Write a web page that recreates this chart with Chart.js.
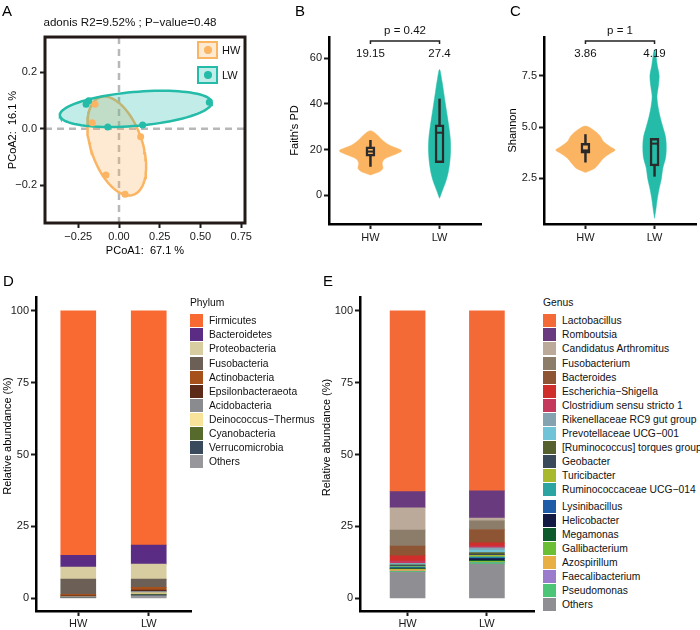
<!DOCTYPE html>
<html>
<head>
<meta charset="utf-8">
<title>Gut microbiota HW vs LW</title>
<script src="https://cdn.jsdelivr.net/npm/chart.js@4.4.1/dist/chart.umd.min.js"></script>
<style>
  body { margin: 0; background: #fff; font-family: "Liberation Sans", Arial, sans-serif; }
  #page { position: relative; width: 700px; height: 630px; overflow: hidden; }
  canvas { position: absolute; }
  .letter { position: absolute; font-size: 15px; line-height: 15px; color: #000; }
  .leg { position: absolute; font-size: 10.3px; color: #111; }
  .leg .lt { position: absolute; left: 0; top: 0; line-height: 14px; white-space: nowrap; }
  .leg .li { position: absolute; left: 0; height: 13px; line-height: 13px; padding-left: 19px; white-space: nowrap; }
  .leg .li i { position: absolute; left: 0; top: 0; width: 13px; height: 13px; }
  .gbox { position: absolute; width: 17px; height: 14px; border: 2px solid; }
  .gbox i { position: absolute; left: 4.5px; top: 3px; width: 8px; height: 8px; border-radius: 50%; }
  .glab { position: absolute; font-size: 11px; line-height: 14px; color: #111; }
</style>
</head>
<body>
<div id="page">
  <canvas id="pcoa" width="260" height="262" style="left:0;top:0"></canvas>
  <canvas id="faith" width="235" height="255" style="left:250px;top:0"></canvas>
  <canvas id="shannon" width="230" height="255" style="left:470px;top:0"></canvas>
  <canvas id="phylum" width="195" height="370" style="left:0;top:260px"></canvas>
  <canvas id="genus" width="220" height="370" style="left:320px;top:260px"></canvas>
  <div class="letter" style="left:2px;top:3px">A</div>
  <div class="letter" style="left:295px;top:3px">B</div>
  <div class="letter" style="left:510px;top:3px">C</div>
  <div class="letter" style="left:3px;top:273px">D</div>
  <div class="letter" style="left:323px;top:273px">E</div>
</div>
<script>
// ---- data ----
const groups = ['HW', 'LW'];
const groupColors = ['#FBB462', '#24BCA8'];
const groupFills = ['rgba(251,180,98,0.28)', 'rgba(36,188,168,0.28)'];
const groupTicks = [1, 2];

// A: PCoA scores
const pcoaHWx = [-0.147, -0.164, 0.133, -0.080, 0.037];
const pcoaHWy = [0.086, 0.021, -0.028, -0.163, -0.231];
const pcoaLWx = [-0.202, -0.186, -0.069, 0.145, 0.554];
const pcoaLWy = [0.086, 0.099, 0.006, 0.013, 0.093];
// confidence ellipses: centre and the two semi-axis vectors
const ellipseCenter = [[-0.014, -0.061], [0.103, 0.070]];
const ellipseAxisA = [[0.102, -0.172], [0.466, 0.022]];
const ellipseAxisB = [[0.149, 0.029], [0.0, 0.060]];
const pcoaXTicks = [-0.25, 0, 0.25, 0.5, 0.75];
const pcoaXLabels = ['−0.25', '0.00', '0.25', '0.50', '0.75'];
const pcoaYTicks = [-0.2, 0, 0.2];
const pcoaYLabels = ['−0.2', '0.0', '0.2'];

// B: Faith's PD (violin profile: value, half width)
const faithHWy = [8.9, 10.4, 11.8, 14.0, 15.8, 17.7, 19.5, 22.0, 24.2, 26.4, 28.3];
const faithHWw = [0, 0.135, 0.18, 0.17, 0.20, 0.34, 0.45, 0.27, 0.17, 0.10, 0];
const faithLWy = [-1.3, 2, 6, 10, 15, 20, 25, 30, 35, 40, 45, 50, 55.1];
const faithLWw = [0, 0.04, 0.09, 0.125, 0.15, 0.16, 0.155, 0.135, 0.11, 0.085, 0.06, 0.035, 0];
const faithBox = [[12.5, 17.1, 19.15, 21.2, 24.2], [14.3, 14.3, 27.4, 30.8, 42.3]]; // min q1 med q3 max
const faithMeans = ['19.15', '27.4'];
const faithP = 'p = 0.42';
const faithTicks = [0, 20, 40, 60];

// C: Shannon
const shannonHWy = [2.78, 2.99, 3.23, 3.48, 3.72, 3.88, 4.04, 4.29, 4.53, 4.78, 5.05];
const shannonHWw = [0, 0.135, 0.20, 0.26, 0.36, 0.43, 0.36, 0.26, 0.22, 0.145, 0];
const shannonLWy = [0.55, 1.0, 1.5, 2.0, 2.5, 3.0, 3.5, 4.0, 4.5, 5.0, 5.5, 6.0, 6.5, 7.0, 7.5, 8.0, 8.5, 8.77];
const shannonLWw = [0, 0.02, 0.04, 0.067, 0.10, 0.12, 0.16, 0.17, 0.16, 0.12, 0.08, 0.05, 0.035, 0.055, 0.067, 0.04, 0.02, 0];
const shannonBox = [[3.27, 3.72, 3.86, 4.21, 4.65], [2.58, 3.1, 4.19, 4.45, 4.45]];
const shannonMeans = ['3.86', '4.19'];
const shannonP = 'p = 1';
const shannonTicks = [2.5, 5, 7.5];
const shannonLabels = ['2.5', '5.0', '7.5'];

// D: phylum composition (%)
const phyla = ['Firmicutes', 'Bacteroidetes', 'Proteobacteria', 'Fusobacteria', 'Actinobacteria',
  'Epsilonbacteraeota', 'Acidobacteria', 'Deinococcus−Thermus', 'Cyanobacteria', 'Verrucomicrobia', 'Others'];
const phylumHW = [85.0, 4.1, 4.2, 5.3, 0.5, 0.3, 0.2, 0.05, 0.05, 0.1, 0.2];
const phylumLW = [81.5, 6.6, 5.2, 2.9, 0.9, 0.5, 0.5, 0.4, 0.25, 0.4, 0.85];
const phylumColors = ['#F96A33', '#5B2C83', '#D8CDA1', '#6B5F56', '#A6511C', '#5C2A18',
  '#898B8E', '#F8E39B', '#556A2B', '#384A5B', '#97979B'];

// E: genus composition (%)
const genera = ['Lactobacillus', 'Romboutsia', 'Candidatus Arthromitus', 'Fusobacterium', 'Bacteroides',
  'Escherichia−Shigella', 'Clostridium sensu stricto 1', 'Rikenellaceae RC9 gut group', 'Prevotellaceae UCG−001',
  '[Ruminococcus] torques group', 'Geobacter', 'Turicibacter', 'Ruminococcaceae UCG−014', 'Lysinibacillus',
  'Helicobacter', 'Megamonas', 'Gallibacterium', 'Azospirillum', 'Faecalibacterium', 'Pseudomonas', 'Others'];
const genusHW = [62.9, 5.6, 7.75, 5.55, 3.4, 1.8, 0.8, 0.3, 0.2, 0.3, 0.3, 0.15, 0.3, 0.1, 0.3, 0.1, 0.15, 0.5, 0.1, 0.25, 9.15];
const genusLW = [62.6, 9.4, 1.0, 3.0, 4.65, 1.15, 0.6, 0.8, 0.8, 0.6, 0.35, 0.6, 0.3, 0.3, 0.6, 0.3, 0.3, 0.1, 0.1, 0.5, 11.9];
const genusColors = ['#F46A36', '#6A3A7E', '#BBA99A', '#8C7D6A', '#8D5533', '#CF2E2A', '#C53A5C', '#85A2B0',
  '#71C4D8', '#56602E', '#3B4A5B', '#A8B92E', '#2CA5A2', '#1E5CA8', '#121A44', '#0E5A2D', '#6ABF34',
  '#E7AF44', '#9B7BCC', '#4CC576', '#8F8F93'];
const abundTicks = [0, 25, 50, 75, 100];

// ---- chart setup ----
Chart.defaults.font.family = '"Liberation Sans", Arial, sans-serif';
Chart.defaults.font.size = 11;
Chart.defaults.color = '#1a1a1a';
Chart.defaults.animation = false;
Chart.defaults.responsive = false;
Chart.defaults.plugins.legend.display = false;
Chart.defaults.plugins.tooltip.enabled = false;

function scale(min, max, values, labels, fitSize, isX, opts = {}) {
  return {
    type: 'linear', min, max, offset: false,
    stacked: !!opts.stacked,
    afterBuildTicks: s => { s.ticks = values.map(v => ({value: v})); },
    afterFit: s => { if (isX) s.height = fitSize; else s.width = fitSize; },
    ticks: {autoSkip: false, maxRotation: 0, padding: opts.tickPad ?? 2, color: '#1a1a1a',
      callback: (v, i) => labels[i]},
    grid: {display: true, offset: false, drawOnChartArea: false, drawTicks: true,
      tickLength: 5, tickWidth: 2, tickColor: '#1a1a1a'},
    border: {display: opts.border !== false, color: '#000', width: 2.5},
    title: opts.title ? {display: true, text: opts.title, color: '#000', font: {size: 11},
      padding: isX ? {top: 0, bottom: opts.titlePad} : {top: opts.titlePad, bottom: 0}} : {display: false}
  };
}

const framePlugin = {
  id: 'frame',
  afterDatasetsDraw(chart) {
    const {ctx, chartArea: a} = chart;
    ctx.save();
    ctx.strokeStyle = '#231a17';
    ctx.lineWidth = 3;
    ctx.strokeRect(a.left, a.top, a.right - a.left, a.bottom - a.top);
    ctx.restore();
  }
};

const zeroLinePlugin = {
  id: 'zeroLines',
  beforeDatasetsDraw(chart) {
    const {ctx, chartArea: a, scales: {x, y}} = chart;
    const px = x.getPixelForValue(0), py = y.getPixelForValue(0);
    ctx.save();
    ctx.strokeStyle = '#b8b8b8';
    ctx.lineWidth = 2.5;
    ctx.setLineDash([7, 5]);
    ctx.beginPath();
    ctx.moveTo(px, a.top); ctx.lineTo(px, a.bottom);
    ctx.moveTo(a.left, py); ctx.lineTo(a.right, py);
    ctx.stroke();
    ctx.restore();
  }
};

const bracketPlugin = {
  id: 'bracket',
  afterDraw(chart, args, o) {
    if (!o.p) return;
    const {ctx, chartArea: a, scales: {x}} = chart;
    const x1 = x.getPixelForValue(1), x2 = x.getPixelForValue(2);
    const yb = a.top + 4;
    ctx.save();
    ctx.strokeStyle = '#222';
    ctx.lineWidth = 1.5;
    ctx.beginPath();
    ctx.moveTo(x1, yb + 3); ctx.lineTo(x1, yb); ctx.lineTo(x2, yb); ctx.lineTo(x2, yb + 3);
    ctx.stroke();
    ctx.fillStyle = '#111';
    ctx.font = '11.5px "Liberation Sans", Arial, sans-serif';
    ctx.textAlign = 'center';
    ctx.textBaseline = 'middle';
    ctx.fillText(o.p, (x1 + x2) / 2, a.top - 6);
    o.means.forEach((m, i) => ctx.fillText(m, x.getPixelForValue(i + 1), a.top + 17));
    ctx.restore();
  }
};

const yTitlePlugin = {
  id: 'yTitle',
  afterDraw(chart, args, o) {
    if (!o.text) return;
    const {ctx} = chart;
    ctx.save();
    ctx.translate(o.x, o.y);
    ctx.rotate(-Math.PI / 2);
    ctx.font = '11px "Liberation Sans", Arial, sans-serif';
    ctx.fillStyle = '#000';
    ctx.textAlign = 'center';
    ctx.textBaseline = 'middle';
    ctx.fillText(o.text, 0, 0);
    ctx.restore();
  }
};

function ellipsePoints(c, a, b) {
  const pts = [];
  for (let k = 0; k <= 90; k++) {
    const t = k / 90 * 2 * Math.PI;
    pts.push({x: c[0] + a[0] * Math.cos(t) + b[0] * Math.sin(t),
              y: c[1] + a[1] * Math.cos(t) + b[1] * Math.sin(t)});
  }
  return pts;
}

function violin(center, ys, ws, color) {
  const pts = ys.map((y, i) => ({x: center + ws[i], y}));
  for (let i = ys.length - 2; i >= 0; i--) pts.push({x: center - ws[i], y: ys[i]});
  return {type: 'line', data: pts, fill: 'shape', backgroundColor: color, borderColor: color,
    borderWidth: 0.5, pointRadius: 0, tension: 0.3, order: 5};
}

function boxes(stats) {
  const ds = [];
  stats.forEach((s, i) => {
    ds.push({type: 'line', data: [{x: i + 1, y: s[0]}, {x: i + 1, y: s[4]}],
      borderColor: '#2b2b2b', borderWidth: 2.5, pointRadius: 0, order: 3});
    ds.push({type: 'line', data: [{x: i + 0.94, y: s[2]}, {x: i + 1.06, y: s[2]}],
      borderColor: '#2b2b2b', borderWidth: 2, pointRadius: 0, order: 1});
  });
  ds.push({type: 'bar', data: stats.map((s, i) => ({x: i + 1, y: [s[1], s[3]]})),
    backgroundColor: groupColors, borderColor: '#2b2b2b', borderWidth: 2.5,
    borderSkipped: false, barThickness: 9, order: 2});
  return ds;
}

// A: PCoA
new Chart(document.getElementById('pcoa'), {
  type: 'scatter',
  data: {
    datasets: [
      {type: 'line', data: ellipsePoints(ellipseCenter[0], ellipseAxisA[0], ellipseAxisB[0]), fill: 'shape',
        backgroundColor: groupFills[0], borderColor: groupColors[0], borderWidth: 2.5, pointRadius: 0, order: 4},
      {type: 'line', data: ellipsePoints(ellipseCenter[1], ellipseAxisA[1], ellipseAxisB[1]), fill: 'shape',
        backgroundColor: groupFills[1], borderColor: groupColors[1], borderWidth: 2.5, pointRadius: 0, order: 3},
      {data: pcoaHWx.map((x, i) => ({x, y: pcoaHWy[i]})), backgroundColor: groupColors[0],
        borderWidth: 0, pointRadius: 3.5, order: 2},
      {data: pcoaLWx.map((x, i) => ({x, y: pcoaLWy[i]})), backgroundColor: groupColors[1],
        borderWidth: 0, pointRadius: 3.5, order: 1}
    ]
  },
  options: {
    layout: {padding: {left: 15, right: 15, top: 0, bottom: 0}},
    plugins: {
      title: {display: true, text: 'adonis R2=9.52% ; P−value=0.48', color: '#111',
        font: {size: 11.6, weight: 'normal'}, padding: {top: 15.6, bottom: 7.5}}
    },
    scales: {
      x: scale(-0.454, 0.773, pcoaXTicks, pcoaXLabels, 39, true,
        {border: false, title: 'PCoA1:  67.1 %', titlePad: 4.4}),
      y: scale(-0.3326, 0.3235, pcoaYTicks, pcoaYLabels, 30, false,
        {border: false, tickPad: 3, title: 'PCoA2:  16.1 %', titlePad: -8.9})
    }
  },
  plugins: [zeroLinePlugin, framePlugin]
});

// B and C: violins with box plots
function alphaChart(id, hwY, hwW, lwY, lwW, box, means, p, yMin, yMax, yTicks, yLabels, yWidth, title, titlePad) {
  new Chart(document.getElementById(id), {
    type: 'scatter',
    data: {
      datasets: [
        violin(1, hwY, hwW, groupColors[0]),
        violin(2, lwY, lwW, groupColors[1]),
        ...boxes(box)
      ]
    },
    options: {
      layout: {padding: {left: 0, right: 4, top: 37, bottom: 0}},
      plugins: {bracket: {p, means}},
      scales: {
        x: scale(0.4, 2.6, groupTicks, groups, 31, true),
        y: scale(yMin, yMax, yTicks, yLabels, yWidth, false, {title, titlePad})
      }
    },
    plugins: [bracketPlugin]
  });
}
alphaChart('faith', faithHWy, faithHWw, faithLWy, faithLWw, faithBox, faithMeans, faithP,
  -12.56, 69.3, faithTicks, faithTicks.map(String), 79, "Faith's PD", 38.4);
alphaChart('shannon', shannonHWy, shannonHWw, shannonLWy, shannonLWw, shannonBox, shannonMeans, shannonP,
  0.27, 9.39, shannonTicks, shannonLabels, 74, 'Shannon', 36.4);

// D and E: stacked composition bars
function stackChart(id, names, hw, lw, colors, yWidth, padRight, titleX, titleY) {
  const datasets = names.map((n, i) => ({
    type: 'bar', label: n,
    data: [{x: 1, y: hw[i]}, {x: 2, y: lw[i]}],
    backgroundColor: colors[i], borderWidth: 0, barThickness: 35
  })).reverse();
  new Chart(document.getElementById(id), {
    type: 'scatter',
    data: {datasets},
    options: {
      layout: {padding: {left: 0, right: padRight, top: 37, bottom: 0}},
      plugins: {yTitle: {text: 'Relative abundance (%)', x: titleX, y: titleY}},
      scales: {
        x: scale(0.4, 2.6, groupTicks, groups, 19, true, {stacked: true, tickPad: 1}),
        y: scale(-4.4, 104.8, abundTicks, abundTicks.map(String), yWidth, false, {stacked: true})
      }
    },
    plugins: [yTitlePlugin]
  });
}
stackChart('phylum', phyla, phylumHW, phylumLW, phylumColors, 36, 4, 8.3, 176);
stackChart('genus', genera, genusHW, genusLW, genusColors, 40, 5.5, 6.7, 177.5);

// ---- legends ----
const page = document.getElementById('page');
function htmlLegend(left, top, title, names, colors, gapAfter) {
  const wrap = document.createElement('div');
  wrap.className = 'leg';
  wrap.style.left = left + 'px';
  wrap.style.top = top + 'px';
  let html = '<div class="lt">' + title + '</div>';
  names.forEach((n, i) => {
    const y = 18.3 + i * 14.07 + (gapAfter != null && i > gapAfter ? 2.5 : 0);
    html += '<div class="li" style="top:' + y.toFixed(1) + 'px"><i style="background:' + colors[i] + '"></i>' + n + '</div>';
  });
  wrap.innerHTML = html;
  page.appendChild(wrap);
}
htmlLegend(190, 296, 'Phylum', phyla, phylumColors, null);
htmlLegend(543, 296, 'Genus', genera, genusColors, 12);

groups.forEach((g, i) => {
  const box = document.createElement('div');
  box.className = 'gbox';
  box.style.left = '197px';
  box.style.top = (41 + i * 25) + 'px';
  box.style.borderColor = groupColors[i];
  box.style.background = groupFills[i];
  box.innerHTML = '<i style="background:' + groupColors[i] + '"></i>';
  page.appendChild(box);
  const lab = document.createElement('div');
  lab.className = 'glab';
  lab.style.left = '222px';
  lab.style.top = (42.5 + i * 25) + 'px';
  lab.textContent = g;
  page.appendChild(lab);
});
</script>
</body>
</html>
